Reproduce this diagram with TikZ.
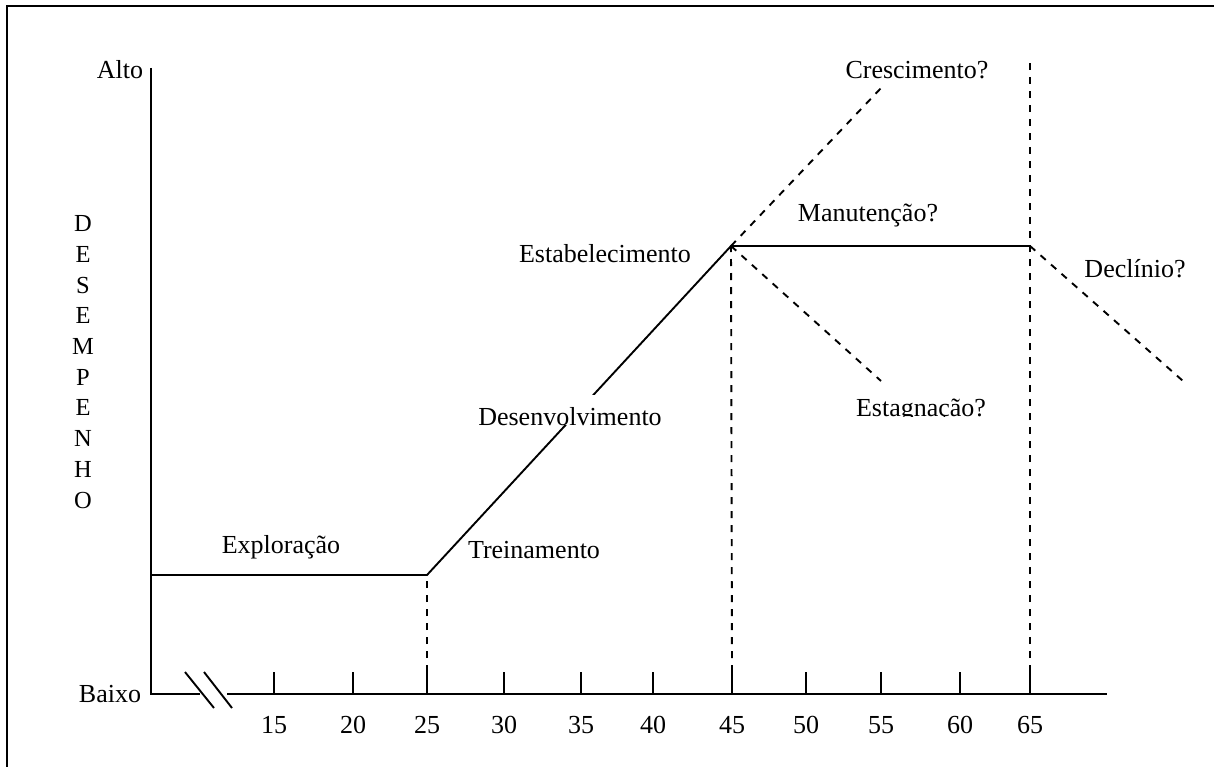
\documentclass[tikz,border=0pt]{standalone}
\usepackage{fontspec}
\setmainfont{Liberation Serif}
\begin{document}
\begin{tikzpicture}[x=1pt,y=-1pt,
  line width=1.9pt,
  lbl/.style={inner sep=0pt, font=\fontsize{26}{30}\selectfont},
  guide/.style={dashed, dash pattern=on 7pt off 7pt, line width=1.9pt},
  curve/.style={line width=1.9pt},
  tick/.style={line width=1.9pt}]
\useasboundingbox (0,0) rectangle (1214,767);
% frame
\draw[line width=2.4pt] (7,6) rectangle (1230,790);

% axes
\coordinate (ytop) at (151,68);
\coordinate (orig) at (151,694);
\coordinate (brkA) at (200,694);
\coordinate (brkB) at (227,694);
\coordinate (xend) at (1107,694);
\draw (ytop) -- (orig) -- (brkA);
\draw (brkB) -- (xend);
% axis break marks
\coordinate (s1a) at (185,672); \coordinate (s1b) at (214,708);
\coordinate (s2a) at (204,672); \coordinate (s2b) at (232,708);
\draw (s1a) -- (s1b);
\draw (s2a) -- (s2b);

% ticks and age labels
\foreach \x/\a in {274/15,353/20,427/25,504/30,581/35,653/40,732/45,806/50,881/55,960/60,1030/65}{
  \coordinate (tb\a) at (\x,694);
  \coordinate (tt\a) at (\x,672);
  \draw[tick] (tb\a) -- (tt\a);
  \node[lbl, anchor=base] (age\a) at (\x,733) {\a};
}

% axis labels
\node[lbl, anchor=base east] (alto) at (144,79) {Alto};
\node[lbl, anchor=base east] (baixo) at (142,702) {Baixo};
\node[align=center, inner sep=0pt, font=\fontsize{24.5}{30.7}\selectfont] (desempenho) at (83,362)
  {D\\E\\S\\E\\M\\P\\E\\N\\H\\O};

% career path
\coordinate (start) at (151,575);
\coordinate (p25) at (427,575);
\coordinate (p45) at (731,246);
\coordinate (p65) at (1030,246);
\draw[curve] (start) -- (p25) -- (p45) -- (p65);

% possible continuations
\coordinate (cresEnd) at (882,87);
\coordinate (estEnd) at (881,381);
\coordinate (decEnd) at (1183,381);
\draw[guide] (p45) -- (cresEnd);
\draw[guide] (p45) -- (estEnd);
\draw[guide] (p65) -- (decEnd);

% vertical guides
\coordinate (v65top) at (1030,57);
\draw[guide] (tt25) -- (p25);
\draw[guide] (tt45) -- (p45);
\draw[guide] (tt65) -- (v65top);

% stage labels
\node[lbl, anchor=base] (explor) at (281,553) {Exploração};
\node[lbl, anchor=base] (trein) at (534,558) {Treinamento};
\node[lbl, anchor=base] (estab) at (605,262) {Estabelecimento};
\node[lbl, anchor=base] (manut) at (868,222) {Manutenção?};
\node[lbl, anchor=base] (cresc) at (917,79) {Crescimento?};
\node[lbl, anchor=base] (decl) at (1135,277) {Declínio?};
% white text boxes whose lower edge cuts the descenders
\begin{scope}
  \fill[white] (466,395) rectangle (674,425);
  \clip (466,380) rectangle (674,425);
  \node[lbl, anchor=base] (desenv) at (570,425) {Desenvolvimento};
\end{scope}
\begin{scope}
  \clip (820,385) rectangle (1010,416);
  \node[lbl, anchor=base] (estag) at (921,416) {Estagnação?};
\end{scope}
\end{tikzpicture}
\end{document}
